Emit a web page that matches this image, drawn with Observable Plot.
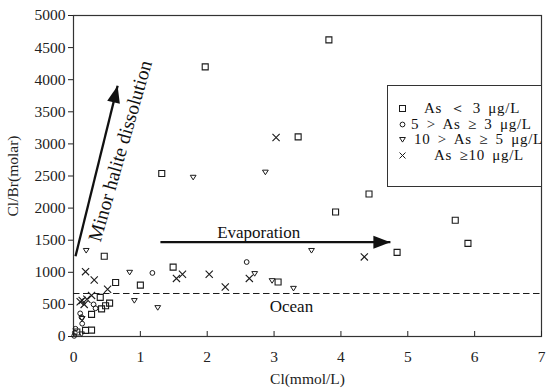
<!DOCTYPE html>
<html>
<head>
<meta charset="utf-8">
<script src="https://cdn.jsdelivr.net/npm/d3@7"></script>
<script src="https://cdn.jsdelivr.net/npm/@observablehq/plot@0.6"></script>
<style>
  html, body { margin: 0; padding: 0; background: #fff; }
  #wrap { position: relative; width: 550px; height: 389px; font-family: "Liberation Serif", "Times New Roman", serif; }
  #wrap svg, #wrap svg text, #wrap svg g { font-family: "Liberation Serif", "Times New Roman", serif !important; font-variant: normal !important; }
  #legend { position: absolute; left: 387px; top: 85px; width: 155px; height: 102px; border: 1px solid #333; background: #fff; box-sizing: border-box; }
  .row { position: absolute; left: 0; height: 15px; font-size: 15px; line-height: 15px; color: #111; white-space: nowrap; }
  .row svg { position: absolute; left: 10px; top: 3px; }
  .row span { position: absolute; top: 0; word-spacing: 3px; letter-spacing: 0.7px; }
</style>
</head>
<body>
<div id="wrap"></div>
<script>
// ---- data ----
const xTicks = [0, 1, 2, 3, 4, 5, 6, 7];
const yTicks = [0, 500, 1000, 1500, 2000, 2500, 3000, 3500, 4000, 4500, 5000];
const legendLabels = ["As ＜ 3 μg/L", "5 > As ≥ 3 μg/L", "10 > As ≥ 5 μg/L", "As ≥10 μg/L"];
const oceanRatio = 670;

// As < 3 μg/L  [Cl (mmol/L), Cl/Br molar]
const asLow = [
  [1.97, 4200], [3.82, 4620], [1.32, 2540], [3.36, 3110], [3.92, 1940], [4.42, 2220],
  [5.71, 1810], [5.90, 1450], [4.84, 1310], [0.46, 1250], [1.49, 1080], [3.06, 850],
  [0.63, 840], [1.00, 800], [0.40, 610], [0.54, 520], [0.48, 480], [0.42, 430],
  [0.27, 345], [0.27, 100], [0.18, 95], [0.05, 70]
];
// 5 > As >= 3
const asMid = [
  [2.59, 1160], [1.18, 990], [0.30, 500], [0.33, 440], [0.10, 360], [0.12, 300],
  [0.13, 200], [0.03, 120], [0.01, 10], [0.02, 60]
];
// 10 > As >= 5
const asHigh = [
  [0.19, 1340], [1.79, 2480], [2.87, 2560], [0.84, 1000], [0.91, 560], [1.26, 450],
  [3.56, 1340], [2.71, 980], [2.97, 870], [3.29, 750], [0.13, 280], [0.12, 40]
];
// As >= 10
const asTop = [
  [3.03, 3100], [4.35, 1240], [1.54, 905], [1.63, 970], [2.03, 970], [2.27, 770],
  [2.63, 905], [0.18, 1010], [0.31, 880], [0.51, 735], [0.27, 640], [0.13, 560],
  [0.16, 500], [0.10, 540], [0.20, 580]
];

// annotation anchors (data coordinates)
const evapArrow = {x1: 1.30, y1: 1470, x2: 4.74, y2: 1470};
const haliteArrow = {x1: 0.03, y1: 1250, x2: 0.66, y2: 3906};
const notes = [
  {x: 2.77, y: 1620, text: "Evaporation", rotate: 0, style: "normal", size: 17},
  {x: 3.26, y: 470, text: "Ocean", rotate: 0, style: "normal", size: 17},
  {x: 0.70, y: 2890, text: "Minor halite dissolution", rotate: -74, style: "italic", size: 19.5}
];

// ---- custom symbols ----
const sqSym = {draw(c) { c.rect(-3, -3, 6, 6); }};
const circSym = {draw(c) { c.moveTo(2.4, 0); c.arc(0, 0, 2.4, 0, 2 * Math.PI); }};
const triDown = {draw(c) { c.moveTo(-2.9, -2); c.lineTo(2.9, -2); c.lineTo(0, 2.6); c.closePath(); }};
const timesSym = {draw(c) { c.moveTo(-3.6, -3.6); c.lineTo(3.6, 3.6); c.moveTo(3.6, -3.6); c.lineTo(-3.6, 3.6); }};
const headSym = {draw(c) { c.moveTo(0, 0); c.lineTo(-6.5, 17); c.lineTo(6.5, 17); c.closePath(); }};

const pts = a => a.map(([x, y]) => ({x, y}));
const ink = "#1a1a1a";
const serif = "Liberation Serif, Times New Roman, serif";

const plot = Plot.plot({
  width: 550,
  height: 389,
  marginLeft: 73,
  marginRight: 9,
  marginTop: 15,
  marginBottom: 53,
  style: {fontFamily: serif, fontSize: "15px", color: "#222", background: "#fff"},
  x: {domain: [0, 7]},
  y: {domain: [0, 5000]},
  marks: [
    Plot.frame({stroke: "#333", strokeWidth: 1.2}),
    Plot.axisY(yTicks, {tickSize: 5, tickPadding: 3, tickFormat: d => String(d), label: "Cl/Br(molar)", labelAnchor: "center", labelOffset: 67, labelArrow: "none", fontSize: 15.5, fontFamily: serif}),
    Plot.axisX(xTicks, {tickSize: 0, tickPadding: 14, tickFormat: d => String(d), label: "Cl(mmol/L)", labelAnchor: "center", labelOffset: 47, labelArrow: "none", fontSize: 15.5, fontFamily: serif}),
    Plot.axisX(xTicks, {tickSize: -5, tickFormat: () => "", label: null}),
    Plot.ruleY([oceanRatio], {stroke: ink, strokeWidth: 1.2, strokeDasharray: "6.5,3.5"}),
    Plot.dot(pts(asLow), {x: "x", y: "y", symbol: sqSym, stroke: ink, strokeWidth: 1.1, fill: "none"}),
    Plot.dot(pts(asMid), {x: "x", y: "y", symbol: circSym, stroke: ink, strokeWidth: 1, fill: "none"}),
    Plot.dot(pts(asHigh), {x: "x", y: "y", symbol: triDown, stroke: ink, strokeWidth: 1, fill: "none"}),
    Plot.dot(pts(asTop), {x: "x", y: "y", symbol: timesSym, stroke: ink, strokeWidth: 1.1, fill: "none"}),
    Plot.link([evapArrow], {x1: "x1", y1: "y1", x2: "x2", y2: "y2", stroke: "#111", strokeWidth: 2.3}),
    Plot.dot([evapArrow], {x: "x2", y: "y2", symbol: headSym, fill: "#111", stroke: "none", rotate: 90}),
    Plot.link([haliteArrow], {x1: "x1", y1: "y1", x2: "x2", y2: "y2", stroke: "#111", strokeWidth: 2.3}),
    Plot.dot([haliteArrow], {x: "x2", y: "y2", symbol: headSym, fill: "#111", stroke: "none", rotate: 14}),
    Plot.text(notes, {x: "x", y: "y", text: "text", rotate: "rotate", fontStyle: d => d.style, fontSize: d => d.size, fontFamily: serif, fill: "#111"})
  ]
});

const wrap = document.getElementById("wrap");
wrap.appendChild(plot);

// legend overlay
const legend = document.createElement("div");
legend.id = "legend";
const symbols = [
  '<rect x="1.5" y="1.5" width="6" height="6" fill="none" stroke="#1a1a1a" stroke-width="1"/>',
  '<circle cx="4.5" cy="4.5" r="2.4" fill="none" stroke="#1a1a1a" stroke-width="1"/>',
  '<path d="M1.6,2.5L7.4,2.5L4.5,7.1Z" fill="none" stroke="#1a1a1a" stroke-width="1"/>',
  '<path d="M1.5,1.5L7.5,7.5M7.5,1.5L1.5,7.5" fill="none" stroke="#1a1a1a" stroke-width="1"/>'
];
const rowTops = [15, 30.5, 46, 61.5];
const textLefts = [36, 23, 26, 46];
legendLabels.forEach((lab, i) => {
  const row = document.createElement("div");
  row.className = "row";
  row.style.top = rowTops[i] + "px";
  row.style.width = "150px";
  row.innerHTML = `<svg width="9" height="9" viewBox="0 0 9 9">${symbols[i]}</svg><span style="left:${textLefts[i]}px">${lab}</span>`;
  legend.appendChild(row);
});
wrap.appendChild(legend);
</script>
</body>
</html>
